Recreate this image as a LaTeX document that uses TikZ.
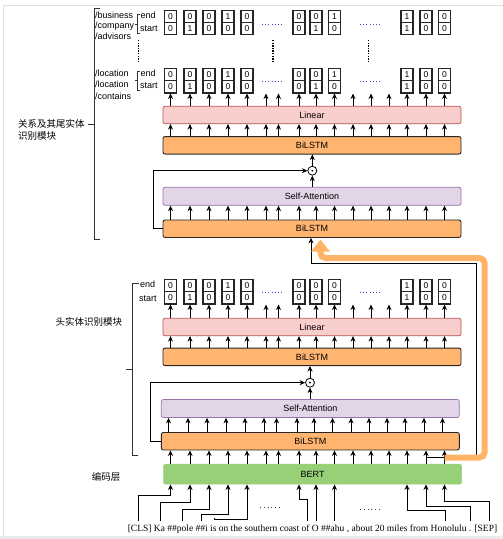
\documentclass[tikz,border=0pt]{standalone}
\usepackage{fontspec}
\setsansfont{Liberation Sans}
\newfontfamily\cjkfont{Noto Sans CJK SC}
\newfontfamily\tnr{Liberation Serif}
\usetikzlibrary{arrows.meta}
\definecolor{orbox}{HTML}{FFB570}
\definecolor{linfill}{HTML}{F8CECC}
\definecolor{linline}{HTML}{B85450}
\definecolor{safill}{HTML}{E1D5E7}
\definecolor{saline}{HTML}{9673A6}
\definecolor{bertfill}{HTML}{97D077}
\definecolor{hlcol}{HTML}{FFB366}
\definecolor{dotblue}{HTML}{3050C0}
\begin{document}
\begin{tikzpicture}[x=1pt,y=-1pt,
  box/.style={rounded corners=2pt, inner sep=0pt, minimum width=298pt, font=\sffamily\fontsize{9}{10}\selectfont},
  bil/.style={box, fill=orbox, draw=black!85, line width=0.9pt, minimum height=17.5pt},
  lin/.style={box, fill=linfill, draw=linline, line width=0.7pt, minimum height=17.5pt},
  sa/.style={box, fill=safill, draw=saline, line width=0.7pt, minimum height=18pt},
  bert/.style={box, fill=bertfill, draw=bertfill, line width=0.5pt, minimum height=20pt},
  arr/.style={-{Stealth[length=5.5pt,width=5pt]}, line width=0.8pt, black},
  cell/.style={draw=black!85, line width=1.1pt, minimum width=12pt, minimum height=12.3pt, inner sep=0pt, font=\sffamily\fontsize{8.5}{9}\selectfont},
  lbl/.style={font=\sffamily\fontsize{9}{10}\selectfont, inner sep=0pt, anchor=west},
  cjk/.style={font=\cjkfont\fontsize{9.5}{11.5}\selectfont, inner sep=0pt},
  brk/.style={line width=1pt, black!80},
  hdots/.style={dotblue, line width=0.9pt, dash pattern=on 0.9pt off 2.3pt},
  bdots/.style={black!75, line width=0.9pt, dash pattern=on 0.9pt off 2.9pt},
  vdots/.style={black, line width=1.6pt, dash pattern=on 1.3pt off 1.3pt},
  line/.style={line width=0.8pt, black},
]
\useasboundingbox (0,0) rectangle (503,539);
% window frame
\draw[black!12, line width=1pt] (3,539) -- (3,5) -- (503,5);
\fill[black!8] (0,536) rectangle (503,539);

% columns
\foreach \i/\x in {1/170.5,2/190,3/209,4/228,5/247,6/266,7/278.5,8/299,9/316,10/334.5,11/353,12/371,13/389,14/407,15/426,16/444.5}
  \coordinate (c\i) at (\x,0);

% boxes
\node[lin] (lin1) at (312,115) {Linear};
\node[bil] (bil1) at (312,145.3) {BiLSTM};
\node[sa]  (sa1)  at (312,196.3) {Self-Attention};
\node[bil] (bil2) at (312,228.7) {BiLSTM};
\node[lin] (lin2) at (312,327) {Linear};
\node[bil] (bil3) at (312,356.8) {BiLSTM};
\node[sa]  (sa2)  at (310.3,408.5) {Self-Attention};
\node[bil] (bil4) at (310.3,441.2) {BiLSTM};
\node[bert] (bert) at (312.6,474.2) {BERT};

% cells
\foreach \i/\e/\s in {1/0/0,2/0/1,3/0/0,4/1/0,5/0/0,8/0/0,9/0/1,10/1/0,14/1/1,15/0/0,16/0/0}{
  \node[cell] (aE\i) at (c\i |- 0,16.35) {\e};
  \node[cell] (aS\i) at (c\i |- 0,28.65) {\s};
  \node[cell] (bE\i) at (c\i |- 0,74.5) {\e};
  \node[cell] (bS\i) at (c\i |- 0,86.85) {\s};
}
\foreach \i/\e/\s in {1/0/0,2/0/1,3/0/0,4/1/0,5/0/0,8/0/0,9/0/0,10/0/0,14/1/1,15/0/0,16/0/0}{
  \node[cell] (hE\i) at (c\i |- 0,285.5) {\e};
  \node[cell] (hS\i) at (c\i |- 0,297.85) {\s};
}

% dots between cells
\foreach \y in {24,81,292.7}{
  \draw[hdots] (262,\y) -- (283,\y);
  \draw[hdots] (360,\y) -- (382,\y);
}
% vertical dots
\foreach \x in {138.3,272.7,368.3}
  \draw[vdots] (\x,40) -- (\x,62);

% labels
\node[lbl] (l1) at (95,15.7) {/business};
\node[lbl] (l2) at (95,25.7) {/company};
\node[lbl] (l3) at (95,36) {/advisors};
\node[lbl] (l4) at (95,73.3) {/location};
\node[lbl] (l5) at (95,84) {/location};
\node[lbl] (l6) at (95,96.7) {/contains};
\node[lbl] (e1) at (140.5,15.7) {end};
\node[lbl] (s1) at (140,29) {start};
\node[lbl] (e2) at (140.5,73.3) {end};
\node[lbl] (s2) at (140,85.7) {start};
\node[lbl] (e3) at (140,284.3) {end};
\node[lbl] (s3) at (139,298.3) {start};

% small brackets
\draw[brk, line width=0.8pt] (139.5,14) -- (137.3,14) -- (137.3,33.3) -- (139.5,33.3);
\draw[brk, line width=0.8pt] (137.3,24) -- (134.5,24);
\draw[brk, line width=0.8pt] (139.5,71) -- (137.3,71) -- (137.3,90) -- (139.5,90);
\draw[brk, line width=0.8pt] (137.3,80) -- (134.5,80);

% big brackets
\draw[brk] (100,8.3) -- (94.3,8.3) -- (94.3,239.3) -- (100,239.3);
\draw[brk] (94.3,124) -- (88,124);
\draw[brk] (138.5,283.3) -- (132.3,283.3) -- (132.3,455) -- (137.7,455);
\draw[brk] (132.3,369.3) -- (125.7,369.3);

% chinese labels
\node[cjk, anchor=west, align=left] (rlab) at (18,129.7) {关系及其尾实体\\识别模块};
\node[cjk] (hlab) at (89,322) {头实体识别模块};
\node[cjk] (elab) at (106,476.7) {编码层};

% column arrows
\foreach \i in {1,...,16}{
  \draw[arr] (lin1.north -| c\i) -- (c\i |- bS1.south);
  \draw[arr] (bil1.north -| c\i) -- (c\i |- lin1.south);
  \draw[arr] (bil2.north -| c\i) -- (c\i |- sa1.south);
  \draw[arr] (lin2.north -| c\i) -- (c\i |- hS1.south);
  \draw[arr] (bil3.north -| c\i) -- (c\i |- lin2.south);
  \draw[arr] ([xshift=-2pt]bil4.north -| c\i) -- ([xshift=-2pt]c\i |- sa2.south);
  \draw[arr] (bert.north -| c\i) -- (c\i |- bil4.south);
}

% odot 1
\node[draw, line width=0.8pt, circle, minimum size=9pt, inner sep=0pt] (od1) at (312.3,170.7) {};
\fill (od1.center) circle (1pt);
\draw[arr] (od1.north) -- (bil1.south -| od1);
\draw[arr] (sa1.north -| od1) -- (od1.south);
\draw[arr] (bil2.west) -- (153.3,228.7) |- (od1.west);
% odot 2
\node[draw, line width=0.8pt, circle, minimum size=9pt, inner sep=0pt] (od2) at (310,382.7) {};
\fill (od2.center) circle (1pt);
\draw[arr] (od2.north) -- (bil3.south -| od2);
\draw[arr] (sa2.north -| od2) -- (od2.south);
\draw[arr] (bil4.west) -- (150.7,441.2) |- (od2.west);

% BERT output to upper BiLSTM
\coordinate (j1) at (c15 |- 0,457);
\draw[arr] (j1) -- (476.7,457) -- (476.7,263.5) -- (311,263.5) -- (bil2.south -| 311,0);
% highlight arrow
\draw[hlcol, line width=6pt, rounded corners=5pt, -{Triangle[length=12pt,width=18pt]}] (c16 |- 0,457.5) -- (484.5,457.5) -- (484.5,258) -- (320.5,258) -- (320.5,239.5);

% sentence
\node[font=\tnr\fontsize{9.5}{11}\selectfont, inner sep=0pt] (sent) at (312.5,529) {[CLS] Ka \#\#pole \#\#i is on the southern coast of O \#\#ahu , about 20 miles from Honolulu . [SEP]};
\foreach \i/\x in {1/138.3,2/160,3/182.7,4/201.7,5/214.5,6/307.3,7/316,8/334.5,9/445.3,10/470.7,11/489}
  \coordinate (tk\i) at (\x,521);
\draw[arr] (tk1) |- (c1 |- 0,495.7) -- (bert.south -| c1);
\draw[arr] (tk2) |- (c2 |- 0,502.7) -- (bert.south -| c2);
\draw[arr] (tk3) |- (c3 |- 0,509.3) -- (bert.south -| c3);
\draw[arr] (tk4) |- (c4 |- 0,514.5) -- (bert.south -| c4);
\draw[arr] ([yshift=3pt]tk5) |- (c5 |- 0,519.5) -- (bert.south -| c5);
\draw[arr] (tk6) |- (c8 |- 0,499.3) -- (bert.south -| c8);
\draw[arr] (tk7) -- (bert.south -| c9);
\draw[arr] (tk8) -- (bert.south -| c10);
\draw[arr] (tk9) |- (c14 |- 0,510) -- (bert.south -| c14);
\draw[arr] (tk10) |- (c15 |- 0,506) -- (bert.south -| c15);
\draw[arr] (tk11) |- (c16 |- 0,501.7) -- (bert.south -| c16);
% bottom dots
\draw[bdots] (260,507.3) -- (282,507.3);
\draw[bdots] (360,509.3) -- (382,509.3);
\end{tikzpicture}
\end{document}
